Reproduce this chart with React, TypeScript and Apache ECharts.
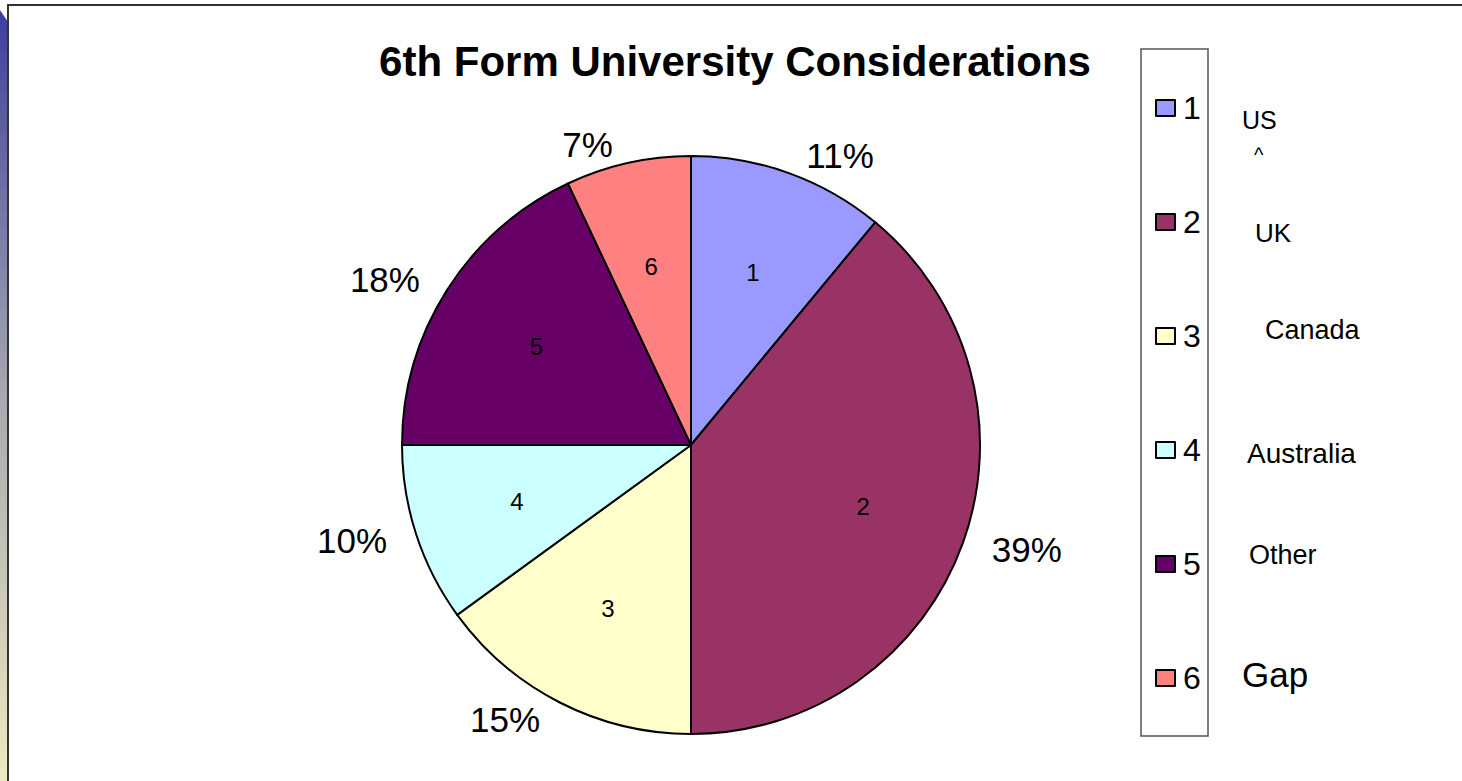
import React, { useEffect, useRef } from "react";
import * as echarts from "echarts";

const titleText = "6th Form University Considerations";
const sliceNames = ["1", "2", "3", "4", "5", "6"];
const sliceValues = [11, 39, 15, 10, 18, 7];
const sliceColors = ["#9999FF", "#993366", "#FFFFCC", "#CCFFFF", "#660066", "#FF8080"];
const countryNames = ["US", "^", "UK", "Canada", "Australia", "Other", "Gap"];

const FONT = "'Liberation Sans', Arial, Helvetica, sans-serif";

export default function App() {
  const ref = useRef<HTMLDivElement>(null);

  useEffect(() => {
    if (!ref.current) return;
    const chart = echarts.init(ref.current, null, { renderer: "svg" });

    const data = sliceNames.map((n, i) => ({
      name: n,
      value: sliceValues[i],
      itemStyle: { color: sliceColors[i] },
    }));
    const labelData = sliceNames.map((n, i) => ({ name: n, value: sliceValues[i] }));

    // layout of the free text next to the legend box: [x, y, fontSize]
    const countryLayout: [number, number, number][] = [
      [1242, 120, 25],
      [1254, 155, 20],
      [1255, 233, 26],
      [1265, 330, 27],
      [1247, 453, 28],
      [1249, 555, 27],
      [1242, 674, 35],
    ];

    chart.setOption({
      animation: false,
      backgroundColor: "#ffffff",
      title: {
        text: titleText,
        left: 735,
        top: 40,
        textAlign: "center",
        padding: 0,
        textStyle: {
          fontFamily: FONT,
          fontWeight: "bold",
          fontSize: 42,
          lineHeight: 42,
          color: "#000",
        },
      },
      legend: {
        data: sliceNames,
        orient: "vertical",
        left: 1155,
        top: 92,
        padding: 0,
        itemWidth: 19,
        itemHeight: 16,
        itemGap: 82,
        icon: "rect",
        selectedMode: false,
        itemStyle: { borderColor: "#000", borderWidth: 2 },
        textStyle: {
          fontFamily: FONT,
          fontSize: 32,
          lineHeight: 32,
          color: "#000",
          padding: [0, 0, 0, 3],
        },
      },
      graphic: [
        {
          type: "polygon",
          z: 0,
          shape: { points: [[0, 10], [8, 22], [8, 781], [0, 781]] },
          style: {
            fill: new echarts.graphic.LinearGradient(0, 0, 0, 1, [
              { offset: 0, color: "#3E3E9E" },
              { offset: 0.5, color: "#A8A8B0" },
              { offset: 1, color: "#ECEAC0" },
            ]),
          },
        },
        {
          type: "rect",
          z: 0,
          shape: { x: 8, y: 5, width: 1470, height: 800 },
          style: { fill: "#ffffff", stroke: "#333333", lineWidth: 2 },
        },
        {
          type: "rect",
          z: 1,
          shape: { x: 1141, y: 49, width: 67, height: 687 },
          style: { fill: "#ffffff", stroke: "#555555", lineWidth: 1.5 },
        },
        ...countryNames.map((t, i) => ({
          type: "text",
          z: 5,
          x: countryLayout[i][0],
          y: countryLayout[i][1],
          style: {
            text: t,
            fontFamily: FONT,
            fontSize: countryLayout[i][2],
            fill: "#000",
            textAlign: "left",
            textVerticalAlign: "middle",
          },
        })),
      ],
      series: [
        {
          type: "pie",
          center: [691, 445],
          radius: 289,
          startAngle: 90,
          clockwise: true,
          percentPrecision: 0,
          avoidLabelOverlap: false,
          silent: true,
          data,
          itemStyle: { borderColor: "#000", borderWidth: 2 },
          label: {
            show: true,
            position: "outside",
            formatter: "{d}%",
            fontFamily: FONT,
            fontSize: 35,
            color: "#000",
            distanceToLabelLine: 5,
          },
          labelLine: { show: false, length: 19, length2: 6 },
          emphasis: { disabled: true },
        },
        {
          type: "pie",
          center: [691, 445],
          radius: [71, 289],
          startAngle: 90,
          clockwise: true,
          avoidLabelOverlap: false,
          silent: true,
          data: labelData,
          itemStyle: { color: "rgba(0,0,0,0)", borderWidth: 0 },
          label: {
            show: true,
            position: "inside",
            formatter: "{b}",
            fontFamily: FONT,
            fontSize: 24,
            color: "#000",
          },
          labelLine: { show: false },
          emphasis: { disabled: true },
        },
      ],
    });

    return () => {
      chart.dispose();
    };
  }, []);

  return (
    <div
      ref={ref}
      style={{ position: "absolute", left: 0, top: 0, width: 1462, height: 781 }}
    />
  );
}
